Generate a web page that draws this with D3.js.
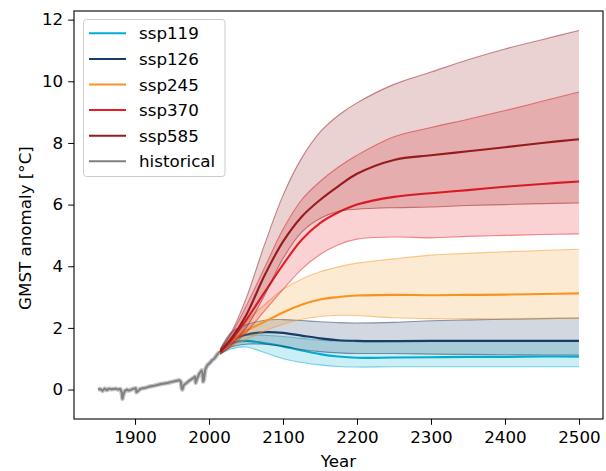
<!DOCTYPE html>
<html>
<head>
<meta charset="utf-8">
<script src="https://cdn.jsdelivr.net/npm/d3@7"></script>
<style>
  html, body { margin: 0; padding: 0; background: #fff; }
  svg { display: block; font-family: "DejaVu Sans", sans-serif; }
</style>
</head>
<body>
<svg id="chart" width="606" height="471"></svg>
<script>
// ---------------- data ----------------
const histYears = [1850,1853,1856,1859,1862,1865,1868,1871,1874,1877,1880,1882,1883,1884,1886,1889,1891,1893,1895,1898,1901,1902,1904,1907,1910,1913,1916,1920,1925,1930,1935,1940,1945,1950,1955,1960,1962,1963,1964,1966,1970,1974,1978,1981,1982,1984,1987,1990,1991,1992,1993,1995,1998,2001,2004,2007,2010,2014];
const histVals  = [0.00,0.02,-0.04,0.03,-0.02,0.03,0.01,0.02,0.03,0.00,0.02,-0.10,-0.30,-0.18,-0.05,0.00,-0.03,-0.02,0.00,0.03,0.04,-0.09,-0.05,0.02,0.04,0.05,0.07,0.10,0.12,0.15,0.18,0.20,0.22,0.25,0.28,0.30,0.25,0.05,0.00,0.15,0.22,0.30,0.36,0.42,0.22,0.36,0.52,0.62,0.56,0.26,0.32,0.66,0.80,0.86,0.95,1.00,1.10,1.22];

const scenYears = [2015,2030,2050,2075,2100,2125,2150,2175,2200,2250,2300,2350,2400,2450,2500];

const ssp119Med = [1.22,1.50,1.58,1.50,1.40,1.27,1.15,1.07,1.03,1.04,1.05,1.06,1.06,1.07,1.07];
const ssp119Lo  = [1.15,1.32,1.38,1.20,1.00,0.88,0.80,0.75,0.73,0.74,0.74,0.74,0.74,0.74,0.74];
const ssp119Hi  = [1.30,1.62,1.76,1.76,1.72,1.66,1.60,1.57,1.55,1.56,1.56,1.56,1.56,1.56,1.56];

const ssp126Med = [1.22,1.60,1.78,1.86,1.84,1.75,1.66,1.60,1.58,1.57,1.58,1.58,1.58,1.58,1.58];
const ssp126Lo  = [1.15,1.38,1.47,1.47,1.40,1.30,1.23,1.19,1.17,1.17,1.15,1.14,1.13,1.12,1.12];
const ssp126Hi  = [1.30,1.85,2.10,2.25,2.27,2.24,2.20,2.17,2.16,2.18,2.23,2.26,2.28,2.30,2.32];

const ssp245Med = [1.22,1.55,1.90,2.20,2.50,2.75,2.92,3.00,3.05,3.07,3.06,3.07,3.08,3.10,3.12];
const ssp245Lo  = [1.15,1.40,1.62,1.90,2.12,2.28,2.37,2.41,2.40,2.33,2.30,2.30,2.30,2.31,2.31];
const ssp245Hi  = [1.30,1.70,2.20,2.75,3.25,3.58,3.82,3.98,4.10,4.24,4.36,4.42,4.47,4.51,4.55];

const ssp370Med = [1.22,1.60,2.25,3.15,4.05,4.85,5.40,5.75,6.00,6.25,6.37,6.47,6.58,6.67,6.75];
const ssp370Lo  = [1.15,1.40,1.85,2.55,3.25,3.90,4.38,4.70,4.88,4.95,4.92,4.97,5.00,5.03,5.05];
const ssp370Hi  = [1.30,1.80,2.70,3.95,5.20,6.15,6.75,7.22,7.60,8.20,8.50,8.77,9.05,9.35,9.65];

const ssp585Med = [1.22,1.65,2.40,3.70,4.80,5.60,6.15,6.60,7.00,7.45,7.60,7.73,7.86,8.00,8.12];
const ssp585Lo  = [1.15,1.45,2.00,3.05,4.25,5.10,5.55,5.78,5.85,5.90,5.92,5.97,6.00,6.03,6.05];
const ssp585Hi  = [1.30,1.85,2.95,4.70,6.30,7.50,8.35,8.90,9.30,9.90,10.30,10.70,11.05,11.35,11.65];

const scenNames  = ["ssp119","ssp126","ssp245","ssp370","ssp585"];
const scenColors = ["#00add0","#173c66","#f79420","#e71d25","#951b1e"];
const histColor  = "#808080";
const xTicks = [1900,2000,2100,2200,2300,2400,2500];
const yTicks = [0,2,4,6,8,10,12];
const xLabel = "Year";
const yLabel = "GMST anomaly [°C]";

const scenarios = [
  {name: scenNames[0], color: scenColors[0], med: ssp119Med, lo: ssp119Lo, hi: ssp119Hi},
  {name: scenNames[1], color: scenColors[1], med: ssp126Med, lo: ssp126Lo, hi: ssp126Hi},
  {name: scenNames[2], color: scenColors[2], med: ssp245Med, lo: ssp245Lo, hi: ssp245Hi},
  {name: scenNames[3], color: scenColors[3], med: ssp370Med, lo: ssp370Lo, hi: ssp370Hi},
  {name: scenNames[4], color: scenColors[4], med: ssp585Med, lo: ssp585Lo, hi: ssp585Hi}
];

// ---------------- layout ----------------
const L = 74, R = 603, T = 11, B = 419;
const FS = 16.7;
const svg = d3.select("#chart");

const x = d3.scaleLinear().domain([1817.5, 2532.5]).range([L, R]);
const y = d3.scaleLinear().domain([-0.955, 12.28]).range([B, T]);

svg.append("defs").append("clipPath").attr("id", "plotclip")
  .append("rect").attr("x", L).attr("y", T).attr("width", R - L).attr("height", B - T);

const plot = svg.append("g").attr("clip-path", "url(#plotclip)");
const curve = d3.curveCatmullRom.alpha(0.5);

scenarios.forEach(s => {
  const pts = scenYears.map((yr, i) => ({yr, lo: s.lo[i], hi: s.hi[i], med: s.med[i]}));
  plot.append("path").datum(pts)
    .attr("d", d3.area().curve(curve).x(d => x(d.yr)).y0(d => y(d.lo)).y1(d => y(d.hi)))
    .attr("fill", s.color).attr("fill-opacity", 0.2).attr("stroke", "none");
  ["lo","hi"].forEach(k => {
    plot.append("path").datum(pts)
      .attr("d", d3.line().curve(curve).x(d => x(d.yr)).y(d => y(d[k])))
      .attr("fill", "none").attr("stroke", s.color).attr("stroke-opacity", 0.5).attr("stroke-width", 1.1);
  });
  plot.append("path").datum(pts)
    .attr("d", d3.line().curve(curve).x(d => x(d.yr)).y(d => y(d.med)))
    .attr("fill", "none").attr("stroke", s.color).attr("stroke-width", 2.1);
});

const hist = histYears.map((yr, i) => ({yr, v: histVals[i]}));
const histLine = d3.line().x(d => x(d.yr)).y(d => y(d.v));
plot.append("path").datum(hist).attr("d", histLine)
  .attr("fill", "none").attr("stroke", histColor).attr("stroke-opacity", 0.45).attr("stroke-width", 4.5)
  .attr("stroke-linejoin", "round");
plot.append("path").datum(hist).attr("d", histLine)
  .attr("fill", "none").attr("stroke", histColor).attr("stroke-width", 2)
  .attr("stroke-linejoin", "round");

// ---------------- axes ----------------
const xAxis = svg.append("g").attr("transform", `translate(0,${B})`)
  .call(d3.axisBottom(x).tickValues(xTicks).tickFormat(d3.format("d")).tickSize(5.8).tickPadding(6).tickSizeOuter(0));
const yAxis = svg.append("g").attr("transform", `translate(${L},0)`)
  .call(d3.axisLeft(y).tickValues(yTicks).tickFormat(d3.format("d")).tickSize(5.8).tickPadding(5).tickSizeOuter(0));
[xAxis, yAxis].forEach(a => {
  a.select(".domain").remove();
  a.selectAll("text").attr("font-size", FS).attr("font-family", "DejaVu Sans").attr("fill", "#000");
  a.selectAll("line").attr("stroke", "#000").attr("stroke-width", 1);
});

svg.append("rect").attr("x", L).attr("y", T).attr("width", R - L).attr("height", B - T)
  .attr("fill", "none").attr("stroke", "#000").attr("stroke-width", 1.1);

svg.append("text").attr("x", (L + R) / 2).attr("y", 467).attr("text-anchor", "middle")
  .attr("font-size", FS).text(xLabel);
svg.append("text").attr("transform", `translate(31,228) rotate(-90)`)
  .attr("text-anchor", "middle").attr("font-size", FS).text(yLabel);

// ---------------- legend ----------------
const legendItems = scenarios.map(s => ({name: s.name, color: s.color}))
  .concat([{name: "historical", color: histColor}]);
const lg = svg.append("g");
lg.append("rect").attr("x", 83.5).attr("y", 19.5).attr("width", 141.5).attr("height", 157)
  .attr("rx", 3).attr("fill", "#fff").attr("fill-opacity", 0.8)
  .attr("stroke", "#cccccc").attr("stroke-width", 1);
legendItems.forEach((it, i) => {
  const cy = 33.3 + i * 25.6;
  lg.append("line").attr("x1", 89).attr("x2", 126).attr("y1", cy).attr("y2", cy)
    .attr("stroke", it.color).attr("stroke-width", 2);
  lg.append("text").attr("x", 139).attr("y", cy).attr("dy", "0.36em")
    .attr("font-size", FS).text(it.name);
});
</script>
</body>
</html>
